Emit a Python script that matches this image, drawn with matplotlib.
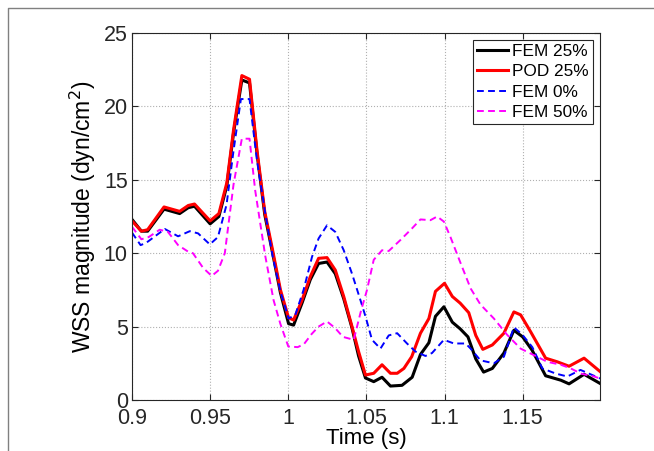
import matplotlib
matplotlib.use('Agg')
import matplotlib.pyplot as plt
from matplotlib.lines import Line2D

plt.rcParams['font.family'] = ['Liberation Sans', 'DejaVu Sans']

# FEM 25% (black)
t_fem25 = [0.9, 0.906, 0.91, 0.9205, 0.9305, 0.936, 0.94, 0.95, 0.9556, 0.9607, 0.965, 0.9703,
           0.9752, 0.98, 0.985, 0.99, 0.995, 1.0002, 1.0034, 1.0088, 1.0141, 1.0194, 1.0248,
           1.0301, 1.0355, 1.0408, 1.045, 1.0494, 1.0547, 1.06, 1.0654, 1.0728, 1.0793, 1.0846,
           1.09, 1.0942, 1.0996, 1.105, 1.11, 1.115, 1.12, 1.125, 1.1306, 1.138, 1.1444, 1.15,
           1.156, 1.1647, 1.1744, 1.1797, 1.1893, 1.2]
v_fem25 = [12.3, 11.5, 11.5, 13.0, 12.7, 13.1, 13.2, 12.0, 12.5, 14.6, 18.2, 21.8,
           21.6, 16.8, 12.6, 10.0, 7.3, 5.2, 5.1, 6.6, 8.2, 9.3, 9.4,
           8.6, 6.9, 4.9, 3.0, 1.5, 1.25, 1.55, 0.95, 1.0, 1.55, 3.1,
           3.9, 5.7, 6.35, 5.3, 4.85, 4.3, 2.8, 1.9, 2.15, 3.2, 4.75, 4.3,
           3.4, 1.65, 1.35, 1.1, 1.75, 1.1]

# POD 25% (red)
t_pod25 = [0.9, 0.906, 0.91, 0.9205, 0.9305, 0.936, 0.94, 0.95, 0.9556, 0.9607, 0.965, 0.9703,
           0.9752, 0.98, 0.985, 0.99, 0.995, 1.0002, 1.0034, 1.0088, 1.0141, 1.0194, 1.0248,
           1.0301, 1.0355, 1.0408, 1.045, 1.0494, 1.0547, 1.06, 1.0654, 1.0697, 1.074, 1.079,
           1.0846, 1.09, 1.0942, 1.1, 1.105, 1.11, 1.1155, 1.12, 1.1245, 1.1306, 1.138, 1.1444,
           1.1487, 1.1551, 1.1647, 1.1722, 1.1797, 1.1893, 1.2]
v_pod25 = [12.2, 11.5, 11.6, 13.15, 12.85, 13.25, 13.35, 12.2, 12.7, 14.8, 18.4, 22.1,
           21.85, 17.0, 12.8, 10.2, 7.5, 5.6, 5.45, 6.8, 8.4, 9.65, 9.7,
           8.85, 7.05, 5.0, 3.3, 1.7, 1.82, 2.4, 1.82, 1.82, 2.15, 2.95,
           4.55, 5.55, 7.4, 7.95, 7.05, 6.6, 5.95, 4.4, 3.45, 3.75, 4.55, 6.0,
           5.8, 4.65, 2.85, 2.6, 2.3, 2.85, 1.9]

# FEM 0% (blue dashed)
t_fem0 = [0.9, 0.9055, 0.909, 0.921, 0.9295, 0.937, 0.9423, 0.9498, 0.955, 0.9605, 0.965, 0.9697,
          0.9752, 0.98, 0.985, 0.99, 0.995, 1.0002, 1.0045, 1.0098, 1.0152, 1.0194, 1.0248,
          1.0301, 1.0355, 1.0408, 1.0462, 1.0494, 1.0536, 1.059, 1.0643, 1.0697, 1.076, 1.0814,
          1.0878, 1.092, 1.0996, 1.106, 1.1135, 1.1167, 1.123, 1.1316, 1.138, 1.1444, 1.1498,
          1.1562, 1.1626, 1.1712, 1.1786, 1.187, 1.2]
v_fem0 = [11.4, 10.55, 10.7, 11.65, 11.15, 11.5, 11.35, 10.6, 11.1, 13.3, 17.0, 20.5,
          20.5, 16.3, 12.9, 9.8, 7.4, 5.55, 5.8, 7.5, 9.75, 11.0, 11.9,
          11.45, 10.2, 8.6, 6.8, 5.7, 4.1, 3.5, 4.4, 4.55, 3.85, 3.3,
          3.0, 3.2, 4.1, 3.85, 3.85, 3.5, 2.7, 2.5, 2.95, 4.95, 4.45,
          3.6, 2.15, 1.8, 1.6, 2.05, 1.45]

# FEM 50% (magenta dashed)
t_fem50 = [0.9, 0.906, 0.9107, 0.9177, 0.923, 0.9295, 0.936, 0.939, 0.9455, 0.951, 0.955, 0.9594,
           0.965, 0.9703, 0.9752, 0.9788, 0.9853, 0.9906, 0.9949, 1.0, 1.006, 1.01, 1.015,
           1.0194, 1.0248, 1.03, 1.035, 1.0419, 1.0466, 1.0504, 1.0547, 1.06, 1.0643, 1.0718,
           1.0793, 1.0846, 1.091, 1.0953, 1.0996, 1.1038, 1.11, 1.1167, 1.123, 1.1316, 1.14,
           1.1487, 1.1573, 1.1658, 1.1744, 1.1808, 1.1872, 1.1957, 1.2]
v_fem50 = [11.8, 10.95, 11.1, 11.6, 11.45, 10.55, 10.1, 10.0, 9.0, 8.45, 8.8, 10.0,
           14.7, 17.8, 17.8, 14.3, 9.8, 6.8, 5.2, 3.65, 3.6, 3.8, 4.5,
           5.0, 5.35, 4.9, 4.3, 4.1, 6.1, 7.5, 9.55, 10.2, 10.15, 10.9,
           11.7, 12.3, 12.25, 12.5, 12.15, 11.1, 9.4, 7.6, 6.5, 5.55, 4.45,
           3.5, 3.05, 2.6, 2.4, 2.15, 1.8, 1.6, 1.45]

xticks = [0.9, 0.95, 1.0, 1.05, 1.1, 1.15]
xticklabels = ['0.9', '0.95', '1', '1.05', '1.1', '1.15']
yticks = [0, 5, 10, 15, 20, 25]

fig = plt.figure(figsize=(6.54, 4.51), dpi=100, facecolor='w')
ax = fig.add_axes([132 / 654, 1 - 400 / 451, 468 / 654, 367 / 451])

ax.plot(t_fem25, v_fem25, 'k-', lw=2.2, label='FEM 25%')
ax.plot(t_pod25, v_pod25, color='#ff0000', lw=2.2, label='POD 25%')
ax.plot(t_fem0, v_fem0, '--', color='#0000ff', lw=1.4, dashes=(3.5, 2.2), label='FEM 0%')
ax.plot(t_fem50, v_fem50, '--', color='#ff00ff', lw=1.4, dashes=(3.5, 2.2), label='FEM 50%')

ax.set_xlim(0.9, 1.1995)
ax.set_ylim(0, 25)
ax.set_xticks(xticks)
ax.set_xticklabels(xticklabels)
ax.set_yticks(yticks)
ax.grid(True, linestyle=':', color='#b0b0b0', lw=0.8)
ax.tick_params(direction='in', top=True, right=True, length=4, width=0.8,
               labelsize=15.5, colors='#262626')
ax.tick_params(axis='x', pad=6)
ax.tick_params(axis='y', pad=3)
for s in ax.spines.values():
    s.set_color('#262626')
    s.set_linewidth(0.8)

ax.set_xlabel('Time (s)', fontsize=16, labelpad=-1)
ax.set_ylabel('WSS magnitude (dyn/cm$^2$)', fontsize=16.5, labelpad=4)

leg = ax.legend(loc='upper right', fontsize=12.4, fancybox=False, framealpha=1,
                edgecolor='#262626', handlelength=1.8, handletextpad=0.25,
                labelspacing=0.3, borderpad=0.25, borderaxespad=0.4)
leg.get_frame().set_linewidth(0.8)

# outer frame of the original figure
fig.add_artist(Line2D([8 / 654, 8 / 654, 1.0], [0.0, 1 - 8 / 451, 1 - 8 / 451],
                      transform=fig.transFigure, color='#808080', lw=1))

plt.savefig('out.png', dpi=100)
